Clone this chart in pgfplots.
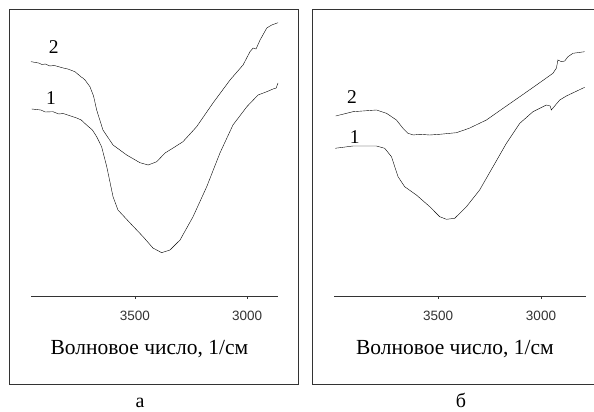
\documentclass[border=0pt]{standalone}
\usepackage{fontspec}
\setmainfont{Liberation Serif}
\newfontfamily\tickfont{Liberation Sans}
\usepackage{pgfplots}
\pgfplotsset{compat=1.18}
\begin{document}
\begin{tikzpicture}[x=1pt,y=1pt]
\useasboundingbox (0,0) rectangle (594,412);
% frames
\draw[line width=1pt, black!80] (9,402) rectangle (298,27);
\draw[line width=1pt, black!80] (312,402) rectangle (600,27);
\pgfplotsset{panel/.style={
  scale only axis, height=286pt, ymin=0, ymax=286,
  axis x line=bottom, axis y line=none, x dir=reverse,
  axis line style={black!80, line width=0.9pt, -},
  xtick={3000,3500}, tick align=outside, major tick length=3pt,
  tick style={black!80, line width=0.8pt},
  ticklabel style={font=\tickfont\fontsize{13.5}{15}\selectfont, text=black!80},
  /pgf/number format/assume math mode=true,
  /pgf/number format/1000 sep={},
  xticklabel shift=9pt,
  xlabel={Волновое число, 1/см},
  xlabel style={font=\fontsize{21.5}{24}\selectfont, yshift=-12pt, xshift=-5pt},
  clip=false,
  cycle list={{black, no markers, line width=1.3pt, line join=round}},
}}
\begin{axis}[panel, at={(31pt,116pt)}, anchor=south west, width=247pt, xmin=2862, xmax=3964]
\addplot coordinates {
(3964,234.3) (3930,233) (3915,231.5) (3900,232) (3880,230) (3860,230.5) (3820,228) (3800,227) (3768,224.3) (3740,219) (3733,218) (3723,216) (3701,209.3)
(3685,200) (3671,186) (3643,166) (3598,151) (3537,141) (3478,133.3) (3441,131)
(3403,134.3) (3366,143) (3330,148) (3286,154.3) (3225,169.3) (3152,193) (3076,216)
(3018,231) (2987,244.3) (2973,248) (2960,247) (2942,256) (2912,268) (2890,271) (2862,273.3)};
\addplot coordinates {
(3961,187) (3920,186) (3900,184) (3866,184.3) (3840,182) (3820,182.5) (3800,181) (3760,178) (3740,176) (3716,171) (3690,166) (3671,159.3) (3649,149.3)
(3626,129.3) (3598,99.3) (3576,86) (3522,73) (3464,59.3) (3420,48) (3381,43.3)
(3344,46) (3299,56) (3241,79.3) (3180,109.3) (3121,143) (3063,171) (3001,189.3)
(2951,201) (2912,204.3) (2884,207) (2870,208) (2862,213)};
\node[font=\fontsize{19.5}{22}\selectfont] at (axis cs:3862,249) {2};
\node[font=\fontsize{19.5}{22}\selectfont] at (axis cs:3875,198) {1};
\end{axis}
\begin{axis}[panel, at={(334pt,116pt)}, anchor=south west, width=251.7pt, xmin=2783, xmax=4005]
\addplot coordinates {
(3997,180) (3913,184.3) (3799,186) (3750,182.7) (3702,176) (3670,167.7) (3646,162.7)
(3620,161) (3589,161.7) (3540,161) (3492,161.7) (3411,163.3) (3349,167.7) (3265,176) (3184,187.7)
(3103,199.3) (3022,211) (2942,222.7) (2925,228) (2918,236) (2901,234.3) (2885,235)
(2869,239.3) (2845,242.7) (2788,244.3)};
\addplot coordinates {
(4000,147.7) (3913,150) (3799,150) (3759,147.7) (3726,139.3) (3694,119.3) (3662,109.3)
(3605,101) (3540,89.3) (3492,79.3) (3459,76.7) (3419,77.7) (3362,89.3) (3298,106)
(3233,129.3) (3168,152.7) (3103,172.7) (3039,184.3) (2974,191) (2955,190) (2950,186)
(2909,196) (2877,200) (2788,208.7)};
\node[font=\fontsize{19.5}{22}\selectfont] at (axis cs:3918,199) {2};
\node[font=\fontsize{19.5}{22}\selectfont] at (axis cs:3904,159) {1};
\end{axis}
\node[font=\fontsize{20}{24}\selectfont, inner sep=0pt, anchor=base] at (140,5) {а};
\node[font=\fontsize{20}{24}\selectfont, inner sep=0pt, anchor=base] at (461,5) {б};
\end{tikzpicture}
\end{document}
